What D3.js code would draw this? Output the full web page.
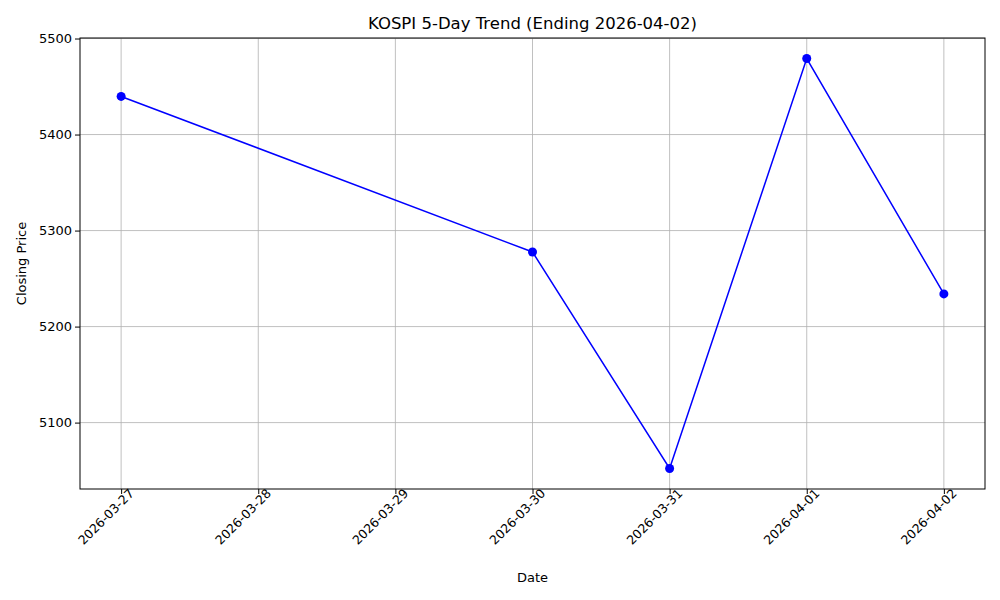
<!DOCTYPE html>
<html><head><meta charset="utf-8">
<script src="https://cdn.jsdelivr.net/npm/d3@7"></script>
<style>body{margin:0;background:#fff}text{font-family:"DejaVu Sans",sans-serif}</style>
</head><body><svg width="1000" height="600"></svg>
<script>
var dates = ["2026-03-27", "2026-03-30", "2026-03-31", "2026-04-01", "2026-04-02"];
var closes = [5439.7, 5277.7, 5052.2, 5479.2, 5234.0];
var tickDates = ["2026-03-27", "2026-03-28", "2026-03-29", "2026-03-30", "2026-03-31", "2026-04-01", "2026-04-02"];
var yTicks = [5100, 5200, 5300, 5400, 5500];

var svg = d3.select("svg"),
    margin = {top: 38, right: 15, bottom: 111, left: 80},
    width = 1000 - margin.left - margin.right,
    height = 600 - margin.top - margin.bottom,
    g = svg.append("g").attr("transform", "translate(" + margin.left + "," + margin.top + ")");

var parse = d3.utcParse("%Y-%m-%d");
var data = dates.map(function(d, i) { return {date: parse(d), v: closes[i]}; });
var t0 = parse(tickDates[0]), t1 = parse(tickDates[tickDates.length - 1]);
var pad = (t1 - t0) * 0.05;
var x = d3.scaleUtc().domain([new Date(+t0 - pad), new Date(+t1 + pad)]).range([0, width]);
var lo = d3.min(closes), hi = d3.max(closes), yp = (hi - lo) * 0.05;
var y = d3.scaleLinear().domain([lo - yp, hi + yp]).range([height, 0]);

// grid
g.selectAll(".gx").data(tickDates).enter().append("line")
    .attr("x1", function(d) { return x(parse(d)); }).attr("x2", function(d) { return x(parse(d)); })
    .attr("y1", 0).attr("y2", height).attr("stroke", "#b0b0b0").attr("stroke-width", 0.8);
g.selectAll(".gy").data(yTicks).enter().append("line")
    .attr("y1", function(d) { return y(d); }).attr("y2", function(d) { return y(d); })
    .attr("x1", 0).attr("x2", width).attr("stroke", "#b0b0b0").attr("stroke-width", 0.8);

var xa = g.append("g").attr("transform", "translate(0," + height + ")")
    .call(d3.axisBottom(x).tickValues(tickDates.map(parse)).tickFormat(d3.utcFormat("%Y-%m-%d")).tickSize(5).tickSizeOuter(0));
xa.selectAll("text").attr("font-size", 12.5).attr("fill", "#000")
    .attr("text-anchor", "end").attr("dx", "0.45em").attr("dy", "0.4em")
    .attr("transform", "rotate(-45)");
var ya = g.append("g").call(d3.axisLeft(y).tickValues(yTicks).tickFormat(d3.format("d")).tickSize(5).tickSizeOuter(0));
ya.selectAll("text").attr("font-size", 13).attr("fill", "#000");
g.selectAll(".domain").remove();
g.append("rect").attr("width", width).attr("height", height).attr("fill", "none").attr("stroke", "#000");

g.append("path").datum(data).attr("fill", "none").attr("stroke", "blue").attr("stroke-width", 1.5)
    .attr("d", d3.line().x(function(d) { return x(d.date); }).y(function(d) { return y(d.v); }));
g.selectAll(".pt").data(data).enter().append("circle")
    .attr("cx", function(d) { return x(d.date); }).attr("cy", function(d) { return y(d.v); })
    .attr("r", 4.5).attr("fill", "blue");

svg.append("text").attr("x", margin.left + width / 2).attr("y", 29).attr("text-anchor", "middle")
    .attr("font-size", 16.5).text("KOSPI 5-Day Trend (Ending 2026-04-02)");
svg.append("text").attr("x", margin.left + width / 2).attr("y", 582).attr("text-anchor", "middle")
    .attr("font-size", 13).text("Date");
svg.append("text").attr("transform", "translate(26," + (margin.top + height / 2) + ") rotate(-90)")
    .attr("text-anchor", "middle").attr("font-size", 13).text("Closing Price");
</script></body></html>
